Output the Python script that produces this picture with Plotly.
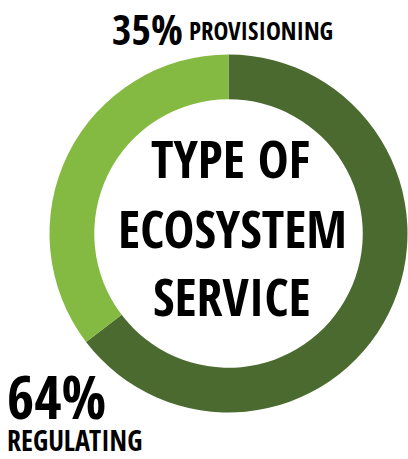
import plotly.graph_objects as go

categories = ["Regulating", "Provisioning"]
values = [64, 35]
colors = ["#4B6A2F", "#84B942"]

W, H = 408, 459
FONT = "Open Sans Condensed, Roboto Condensed, DejaVu Sans Condensed, sans-serif"

cx, cy, R = 228.5, 233.5, 179

fig = go.Figure(go.Pie(
    labels=categories, values=values, sort=False, direction="clockwise", rotation=0,
    hole=0.75, marker=dict(colors=colors, line=dict(width=0)),
    textinfo="none", hoverinfo="label+value", showlegend=False,
    domain=dict(x=[max(0, (cx - R) / W), min(1, (cx + R) / W)],
                y=[max(0, 1 - (cy + R) / H), min(1, 1 - (cy - R) / H)]),
))

def ann(text, x, y, size, xanchor="center"):
    fig.add_annotation(text=f"<b>{text}</b>", x=x / W, y=1 - y / H, xref="paper", yref="paper",
                       xanchor=xanchor, yanchor="middle", showarrow=False, borderpad=0,
                       font=dict(family=FONT, size=size, color="#000000"))

ann("TYPE OF", 230, 158, 52)
ann("ECOSYSTEM", 232, 227, 52)
ann("SERVICE", 232, 295, 52)
ann(f"{values[0]}%", 6, 396, 59, "left")
ann(categories[0].upper(), 6, 440, 28, "left")
ann(f"{values[1]}%", 184, 28.5, 42, "right")
ann(categories[1].upper(), 188, 29.5, 25, "left")

fig.update_layout(width=W, height=H, margin=dict(l=0, r=0, t=0, b=0),
                  paper_bgcolor="white", plot_bgcolor="white")
fig.write_html("out.html", config={"displayModeBar": False},
               post_script="document.body.style.margin='0';")
